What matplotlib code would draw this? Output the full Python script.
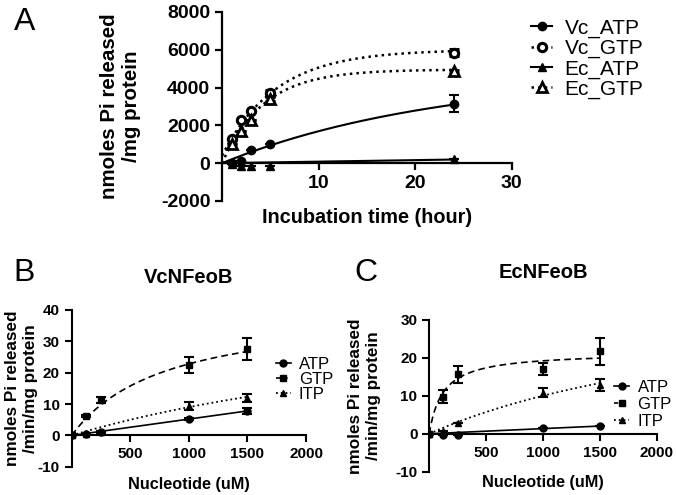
import numpy as np
import matplotlib
matplotlib.use("Agg")
import matplotlib.pyplot as plt
from matplotlib.lines import Line2D

plt.rcParams['font.family'] = ['Liberation Sans', 'DejaVu Sans']
plt.rcParams['axes.unicode_minus'] = False

# ---- Panel A data: Pi release over time ----
time_h = [1, 2, 3, 5, 24]
vc_atp = [0, 100, 720, 1000, 3150]
vc_atp_err = [0, 0, 0, 0, 450]
vc_gtp = [1300, 2300, 2750, 3700, 5850]
vc_gtp_err = [0, 0, 0, 150, 200]
ec_atp = [-50, -150, -150, -150, 200]
ec_atp_err = [0, 0, 0, 0, 0]
ec_gtp = [1000, 1700, 2300, 3400, 4850]
ec_gtp_err = [0, 0, 0, 100, 100]

# one-phase association fits (Y0, plateau, k)
fit_vc_atp = (0, 4750, 0.044)
fit_vc_gtp = (400, 6000, 0.178)
fit_ec_gtp = (0, 4950, 0.232)
ec_atp_slope = 8.0

# ---- Panel B/C data: Pi release vs nucleotide concentration ----
nucleotide = [0, 125, 250, 1000, 1500]
vc_b_atp = [0, 0.5, 1.0, 5.2, 7.8]
vc_b_atp_err = [0, 0, 0.3, 0.3, 1.0]
vc_b_gtp = [0, 6.3, 11.2, 22.5, 27.5]
vc_b_gtp_err = [0, 0.3, 1.0, 2.5, 3.6]
vc_b_itp = [0, 0.5, 1.2, 9.3, 12.0]
vc_b_itp_err = [0, 0, 0.2, 1.2, 1.3]

ec_c_atp = [0, -0.2, -0.3, 1.4, 2.0]
ec_c_atp_err = [0, 0, 0, 0, 0]
ec_c_gtp = [0, 9.8, 15.6, 17.0, 21.7]
ec_c_gtp_err = [0, 1.6, 2.2, 1.6, 3.5]
ec_c_itp = [0, 0.8, 2.8, 10.8, 12.8]
ec_c_itp_err = [0, 0, 0, 1.2, 1.5]

# Michaelis-Menten fits (Vmax, Km); ATP as straight lines (slope)
fit_vc_gtp_mm = (41.0, 800.0)
fit_vc_itp_mm = (46.0, 4100.0)
vc_atp_slope = 0.0052
fit_ec_gtp_mm = (21.5, 120.0)
fit_ec_itp_mm = (40.0, 3000.0)
ec_atp_slope_c = 0.00135


def assoc(t, p):
    y0, plateau, k = p
    return y0 + (plateau - y0) * (1 - np.exp(-k * t))


def mm(x, p):
    vmax, km = p
    return vmax * x / (km + x)


def style_axes(ax, lw=1.6):
    ax.spines['top'].set_visible(False)
    ax.spines['right'].set_visible(False)
    ax.spines['left'].set_linewidth(lw)
    ax.spines['bottom'].set_linewidth(lw)
    ax.spines['bottom'].set_position(('data', 0))
    ax.tick_params(direction='out', width=lw, length=5, color='black')


fig = plt.figure(figsize=(6.77, 4.95), dpi=100)
ebkw = dict(ecolor='black', elinewidth=1.5, capsize=3.5, capthick=1.5)

# ---------------- Panel A ----------------
axA = fig.add_axes([0.328, 0.594, 0.428, 0.382])
tt = np.linspace(0, 24, 200)
axA.plot(tt, assoc(tt, fit_vc_atp), '-', color='black', lw=1.5)
axA.plot(tt, assoc(tt, fit_vc_gtp), ':', color='black', lw=1.8)
axA.plot(tt, ec_atp_slope * tt, '-', color='black', lw=1.5)
axA.plot(tt, assoc(tt, fit_ec_gtp), ':', color='black', lw=1.8)

axA.errorbar(time_h, vc_atp, yerr=vc_atp_err, fmt='o', color='black', ms=6, **ebkw)
axA.errorbar(time_h, vc_gtp, yerr=vc_gtp_err, fmt='o', mfc='white', mec='black',
             mew=2.2, ms=6, **ebkw)
axA.errorbar(time_h, ec_atp, yerr=ec_atp_err, fmt='^', color='black', ms=6, **ebkw)
axA.errorbar(time_h, ec_gtp, yerr=ec_gtp_err, fmt='^', mfc='white', mec='black',
             mew=2.0, ms=7, **ebkw)

axA.set_xlim(0, 30)
axA.set_ylim(-2000, 8000)
axA.set_xticks([10, 20, 30])
axA.set_yticks([-2000, 0, 2000, 4000, 6000, 8000])
style_axes(axA)
for lab in axA.get_xticklabels() + axA.get_yticklabels():
    lab.set_fontweight('bold')
    lab.set_fontsize(14)
axA.set_xlabel('Incubation time (hour)', fontsize=14.3, fontweight='bold')
axA.xaxis.label.set_va('center')
axA.xaxis.set_label_coords(0.5, -0.085)
axA.set_ylabel('nmoles Pi released\n/mg protein', fontsize=14.8, fontweight='bold',
               va='center', multialignment='center')
axA.yaxis.set_label_coords(-0.35, 0.5)

hA = [Line2D([], [], color='black', ls='-', lw=1.5, marker='o', ms=6),
      Line2D([], [], color='black', ls=':', lw=1.8, marker='o', mfc='white', mew=2.2, ms=6),
      Line2D([], [], color='black', ls='-', lw=1.5, marker='^', ms=6),
      Line2D([], [], color='black', ls=':', lw=1.8, marker='^', mfc='white', mew=2.0, ms=7)]
fig.legend(hA, ['Vc_ATP', 'Vc_GTP', 'Ec_ATP', 'Ec_GTP'], loc='upper left',
           bbox_to_anchor=(0.757, 1.0), frameon=False, fontsize=15,
           handlelength=1.0, handletextpad=0.6, labelspacing=0.05)

fig.text(0.036, 0.955, 'A', fontsize=23, ha='center', va='center')

# ---------------- Panel B and C ----------------
xx = np.linspace(0, 1500, 200)


def kinetics_panel(rect, atp, atp_e, gtp, gtp_e, itp, itp_e, gfit, ifit, aslope,
                   ylim, yticks, title, letter, letter_xy, title_xy, ylab_x, xlab_y,
                   leg_xy, leg_space):
    ax = fig.add_axes(rect)
    ax.plot(xx, aslope * xx, '-', color='black', lw=1.2)
    ax.plot(xx, mm(xx, gfit), '--', color='black', lw=1.2, dashes=(4, 2.5))
    ax.plot(xx, mm(xx, ifit), ':', color='black', lw=1.3)
    ax.errorbar(nucleotide, atp, yerr=atp_e, fmt='o', color='black', ms=5, **ebkw)
    ax.errorbar(nucleotide, gtp, yerr=gtp_e, fmt='s', color='black', ms=5, **ebkw)
    ax.errorbar(nucleotide, itp, yerr=itp_e, fmt='^', color='black', ms=5, **ebkw)
    ax.set_xlim(0, 2000)
    ax.set_ylim(*ylim)
    ax.set_xticks([500, 1000, 1500, 2000])
    ax.set_yticks(yticks)
    style_axes(ax, lw=1.5)
    for lab in ax.get_xticklabels() + ax.get_yticklabels():
        lab.set_fontweight('bold')
        lab.set_fontsize(11)
    ax.set_xlabel('Nucleotide (uM)', fontsize=11.7, fontweight='bold')
    ax.xaxis.label.set_va('center')
    ax.xaxis.set_label_coords(0.5, xlab_y)
    ax.set_ylabel('nmoles Pi released\n/min/mg protein', fontsize=12.3, fontweight='bold',
                  va='center', multialignment='center')
    ax.yaxis.set_label_coords(ylab_x, 0.5)
    fig.text(title_xy[0], title_xy[1], title, fontsize=14.5, fontweight='bold',
             ha='center', va='center')
    fig.text(letter_xy[0], letter_xy[1], letter, fontsize=23, ha='center', va='center')
    h = [Line2D([], [], color='black', ls='-', lw=1.2, marker='o', ms=5),
         Line2D([], [], color='black', ls='--', lw=1.2, marker='s', ms=5, dashes=(2.5, 2)),
         Line2D([], [], color='black', ls=':', lw=1.3, marker='^', ms=5)]
    fig.legend(h, ['ATP', 'GTP', 'ITP'], loc='upper left', bbox_to_anchor=leg_xy,
               frameon=False, fontsize=12, handlelength=0.9, handletextpad=0.5,
               labelspacing=leg_space)
    return ax


kinetics_panel([0.106, 0.057, 0.346, 0.317], vc_b_atp, vc_b_atp_err, vc_b_gtp, vc_b_gtp_err,
               vc_b_itp, vc_b_itp_err, fit_vc_gtp_mm, fit_vc_itp_mm, vc_atp_slope,
               (-10, 40), [-10, 0, 10, 20, 30, 40], 'VcNFeoB', 'B',
               (0.036, 0.449), (0.278, 0.44), -0.214, -0.115, (0.385, 0.31), 0.0)

kinetics_panel([0.634, 0.047, 0.336, 0.307], ec_c_atp, ec_c_atp_err, ec_c_gtp, ec_c_gtp_err,
               ec_c_itp, ec_c_itp_err, fit_ec_gtp_mm, fit_ec_itp_mm, ec_atp_slope_c,
               (-10, 30), [-10, 0, 10, 20, 30], 'EcNFeoB', 'C',
               (0.541, 0.449), (0.802, 0.449), -0.285, -0.072, (0.885, 0.262), 0.1)

fig.savefig('out.png', dpi=100)
